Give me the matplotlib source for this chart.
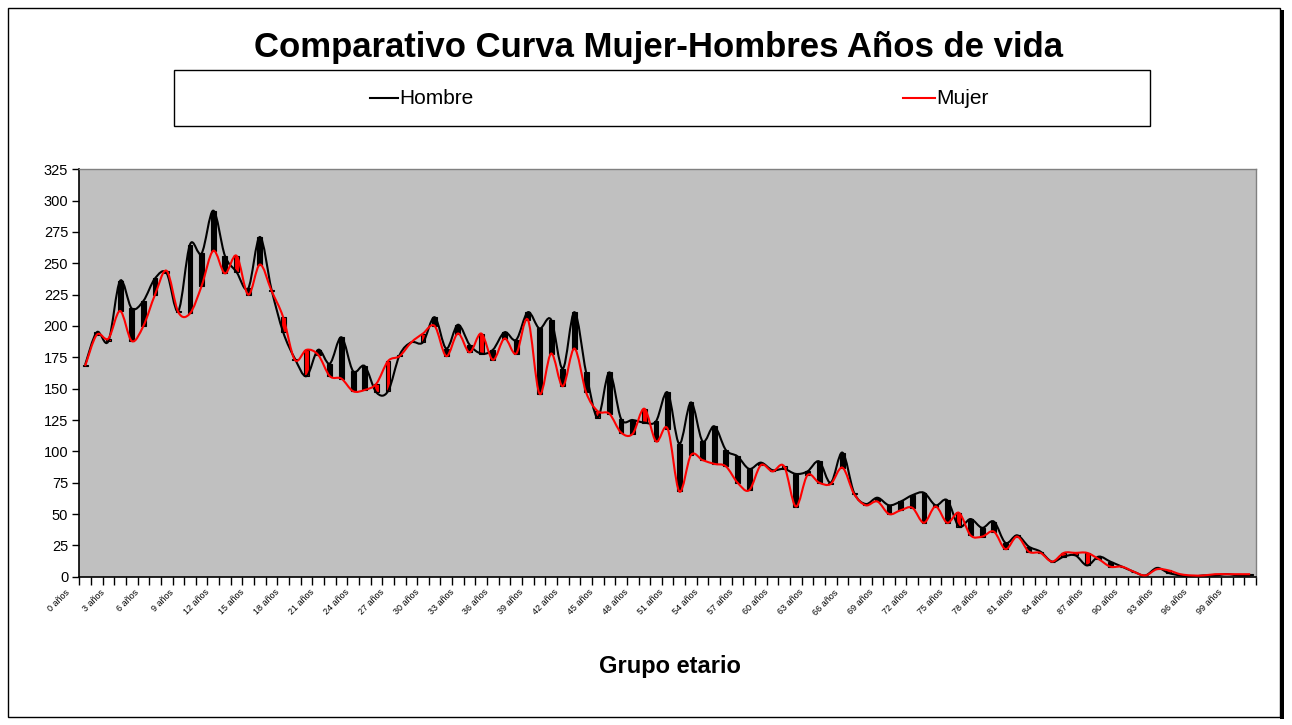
import numpy as np
import matplotlib
matplotlib.use("Agg")
import matplotlib.pyplot as plt
from matplotlib.path import Path
from matplotlib.patches import PathPatch, Rectangle
from matplotlib.lines import Line2D
from matplotlib.transforms import ScaledTranslation

plt.rcParams['font.family'] = ['Liberation Sans', 'DejaVu Sans']

# ---- data ----
ages = list(range(0, 101))
hombre = [169, 195, 188, 236, 214, 220, 238, 242, 212, 265, 258, 292, 256, 243, 230, 271, 229, 195, 174, 160,
          181, 170, 191, 164, 168, 147, 148, 177, 187, 187, 207, 182, 201, 185, 178, 181, 195, 189, 211, 198,
          205, 166, 211, 163, 127, 163, 126, 125, 123, 124, 147, 106, 139, 108, 120, 101, 96, 86, 91, 85,
          86, 82, 84, 92, 75, 99, 67, 58, 63, 57, 60, 65, 67, 57, 61, 40, 46, 39, 44, 27,
          33, 24, 20, 12, 16, 17, 9, 16, 12, 8, 4, 1, 7, 3, 1, 0, 1, 1, 2, 1, 1]
mujer = [168, 193, 190, 212, 188, 200, 225, 244, 211, 210, 232, 260, 242, 256, 225, 249, 228, 207, 173, 181,
         177, 160, 158, 148, 149, 154, 172, 176, 187, 194, 200, 176, 194, 179, 194, 173, 190, 178, 205, 146,
         178, 152, 182, 147, 132, 130, 115, 114, 134, 108, 118, 68, 97, 93, 90, 88, 75, 69, 89, 84,
         88, 56, 81, 75, 74, 87, 66, 57, 60, 50, 53, 55, 43, 56, 43, 51, 33, 32, 36, 22,
         32, 20, 19, 12, 19, 19, 19, 14, 8, 8, 4, 1, 6, 5, 2, 1, 1, 2, 2, 2, 2]
label_step = 3
tick_labels = [f"{a} años" for a in ages[::label_step]]
yticks = list(range(0, 326, 25))

title = "Comparativo Curva Mujer-Hombres Años de vida"
xlabel = "Grupo etario"

W, H = 1292, 725
fig = plt.figure(figsize=(W / 100, H / 100), dpi=100)
fig.patch.set_facecolor('white')

# chart border with shadow
fig.patches.append(Rectangle((8 / W, 1 - 717 / H), (1280 - 8) / W, (717 - 8) / H,
                             transform=fig.transFigure, fill=False, edgecolor='black', lw=1.0))
fig.patches.append(Rectangle((1280 / W, 1 - 719 / H), 4 / W, (719 - 10) / H,
                             transform=fig.transFigure, facecolor='black', edgecolor='none'))

left, right, top, bottom = 79.3, 1256, 169.3, 576.7
ax = fig.add_axes([left / W, 1 - bottom / H, (right - left) / W, (bottom - top) / H])
ax.set_facecolor('#C0C0C0')
x = np.arange(len(ages))
ax.set_xlim(-0.5, len(ages) - 0.5)
ax.set_ylim(0, 325)


def smooth_path(xs, ys):
    pts = np.column_stack([xs, ys]).astype(float)
    n = len(pts)
    verts = [pts[0]]
    codes = [Path.MOVETO]
    for i in range(n - 1):
        p0 = pts[i - 1] if i > 0 else pts[i]
        p1 = pts[i]
        p2 = pts[i + 1]
        p3 = pts[i + 2] if i + 2 < n else pts[i + 1]
        c1 = p1 + (p2 - p0) / 6.0
        c2 = p2 - (p3 - p1) / 6.0
        verts += [c1, c2, p2]
        codes += [Path.CURVE4] * 3
    return Path(verts, codes)


# up/down bars
hv = np.array(hombre, float)
mv = np.array(mujer, float)
down = hv >= mv
ax.bar(x[down], (hv - mv)[down], bottom=mv[down], width=0.42, color='black',
       edgecolor='black', lw=0.8, zorder=2)
ax.bar(x[~down], (mv - hv)[~down], bottom=hv[~down], width=0.42, color='#FF0000',
       edgecolor='black', lw=0.8, zorder=2)

ax.add_patch(PathPatch(smooth_path(x, hombre), fill=False, edgecolor='black', lw=1.5, zorder=3))
ax.add_patch(PathPatch(smooth_path(x, mujer), fill=False, edgecolor='#FF0000', lw=1.5, zorder=3))

# axes styling
for s in ['top', 'right']:
    ax.spines[s].set_color('#808080')
    ax.spines[s].set_linewidth(1.0)
for s in ['left', 'bottom']:
    ax.spines[s].set_color('black')
    ax.spines[s].set_linewidth(1.2)

ax.set_yticks(yticks)
ax.set_yticklabels([str(v) for v in yticks], fontsize=10.5)
ax.tick_params(axis='y', direction='out', length=5, width=1, pad=3)

ax.set_xticks(x[::label_step])
ax.set_xticklabels(tick_labels, rotation=45, ha='right', fontsize=6.5)
ax.set_xticks(np.arange(-0.5, len(ages), 1.0), minor=True)
ax.tick_params(axis='x', which='major', length=0, pad=8)
ax.tick_params(axis='x', which='minor', direction='out', length=6, width=1)
off = ScaledTranslation(-14 / 100, 0, fig.dpi_scale_trans)
for lab in ax.get_xticklabels():
    lab.set_transform(lab.get_transform() + off)

# titles
fig.text(658 / W, 1 - 48 / H, title, ha='center', va='center', fontsize=25, fontweight='bold')
fig.text(670 / W, 1 - 666 / H, xlabel, ha='center', va='center', fontsize=17, fontweight='bold')

# legend box
fig.patches.append(Rectangle((174 / W, 1 - 126 / H), (1150 - 174) / W, (126 - 70) / H,
                             transform=fig.transFigure, facecolor='white', edgecolor='black', lw=1.0))
fig.lines.append(Line2D([370 / W, 398 / W], [1 - 98 / H] * 2, transform=fig.transFigure,
                        color='black', lw=1.5))
fig.text(399 / W, 1 - 98 / H, "Hombre", ha='left', va='center', fontsize=15)
fig.lines.append(Line2D([903 / W, 935 / W], [1 - 98 / H] * 2, transform=fig.transFigure,
                        color='#FF0000', lw=1.5))
fig.text(936 / W, 1 - 98 / H, "Mujer", ha='left', va='center', fontsize=15)

fig.savefig('out.png', dpi=100)
